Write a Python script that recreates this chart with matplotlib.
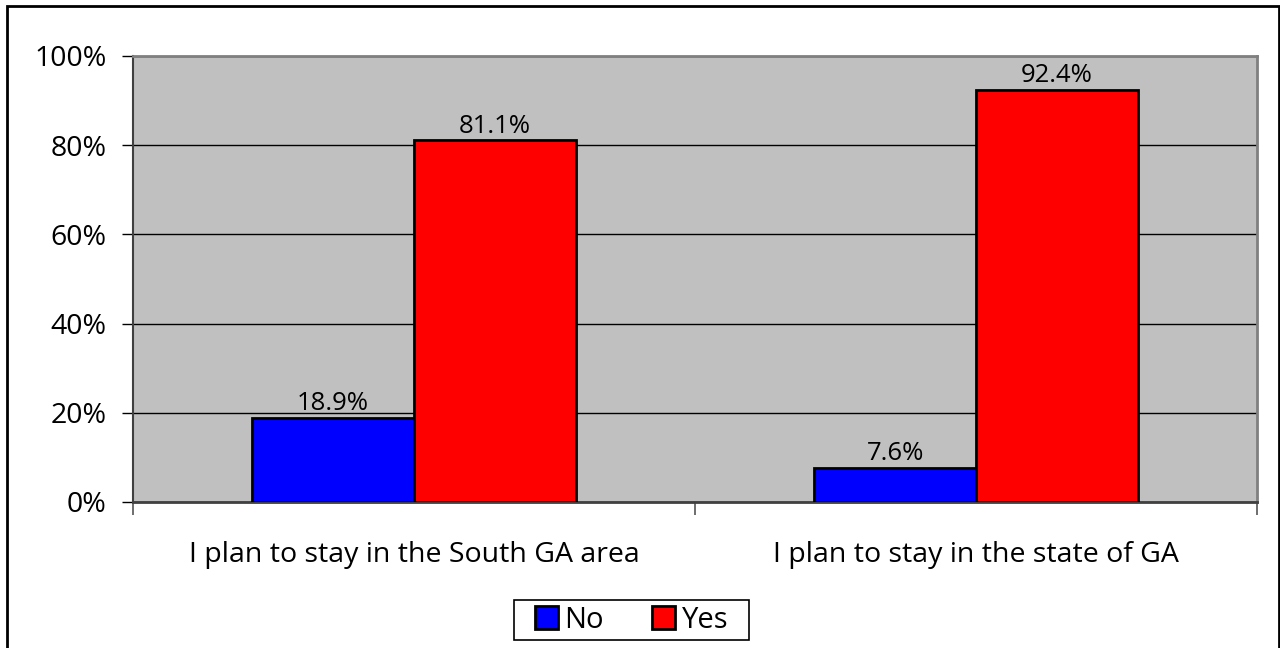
import matplotlib
matplotlib.use("Agg")
import matplotlib.pyplot as plt
from matplotlib.patches import Rectangle
import numpy as np

plt.rcParams['font.family'] = ['Open Sans', 'DejaVu Sans']

categories = ["I plan to stay in the South GA area", "I plan to stay in the state of GA"]
series_names = ["No", "Yes"]
no_values = [18.9, 7.6]
yes_values = [81.1, 92.4]
colors = ["#0000FF", "#FF0000"]
yticks = [0, 20, 40, 60, 80, 100]

fig = plt.figure(figsize=(12.8, 6.48), dpi=100)
ax = fig.add_axes([133/1280, 1 - 502/648, 1124/1280, 446/648])
ax.set_facecolor("#C0C0C0")

x = np.arange(len(categories))
w = 0.288
b1 = ax.bar(x - w/2, no_values, w, color=colors[0], edgecolor="black", linewidth=2, label=series_names[0], zorder=3)
b2 = ax.bar(x + w/2, yes_values, w, color=colors[1], edgecolor="black", linewidth=2, label=series_names[1], zorder=3)

for bars, vals in [(b1, no_values), (b2, yes_values)]:
    for rect, v in zip(bars, vals):
        ax.text(rect.get_x() + rect.get_width()/2, v + 0.4, f"{v:.1f}%", ha="center", va="bottom",
                fontsize=18.5, color="black", zorder=4)

ax.set_xlim(-0.5, len(categories) - 0.5)
ax.set_ylim(0, 100)
ax.set_yticks(yticks)
ax.set_yticklabels([f"{t}%" for t in yticks], fontsize=20.5)
ax.yaxis.grid(True, color="black", linewidth=1)
ax.set_axisbelow(True)

ax.set_xticks(x)
ax.set_xticklabels(categories, fontsize=20.5)
ax.tick_params(axis="x", length=0, pad=28)
ax.set_xticks([-0.5, 0.5, 1.5], minor=True)
ax.tick_params(axis="x", which="minor", length=9, width=1.2, color="#555555", direction="out")
ax.tick_params(axis="y", length=8, width=1, color="black", direction="out", pad=11)

for s in ["top", "right"]:
    ax.spines[s].set_color("#808080")
    ax.spines[s].set_linewidth(2)
ax.spines["left"].set_color("#404040")
ax.spines["left"].set_linewidth(1.5)
ax.spines["bottom"].set_color("#404040")
ax.spines["bottom"].set_linewidth(2)

leg = fig.legend(handles=[b1, b2], labels=series_names, loc="center", bbox_to_anchor=(631.5/1280, 1 - 620/648),
                 ncol=2, frameon=False, fontsize=21, handlelength=0.8, handleheight=0.8,
                 handletextpad=0.22, columnspacing=1.65, borderpad=0.2)

# legend frame
fig.patches.append(Rectangle((514/1280, 1 - 640/648), 235/1280, 40/648, transform=fig.transFigure,
                             fill=True, facecolor="white", edgecolor="black", linewidth=1.2, zorder=1))

fig.patches.append(Rectangle((7/1280, -0.1), 1272/1280, 1.1 - 6/648, transform=fig.transFigure,
                             fill=False, edgecolor="black", linewidth=2, zorder=10))

fig.savefig("out.png", dpi=100)
